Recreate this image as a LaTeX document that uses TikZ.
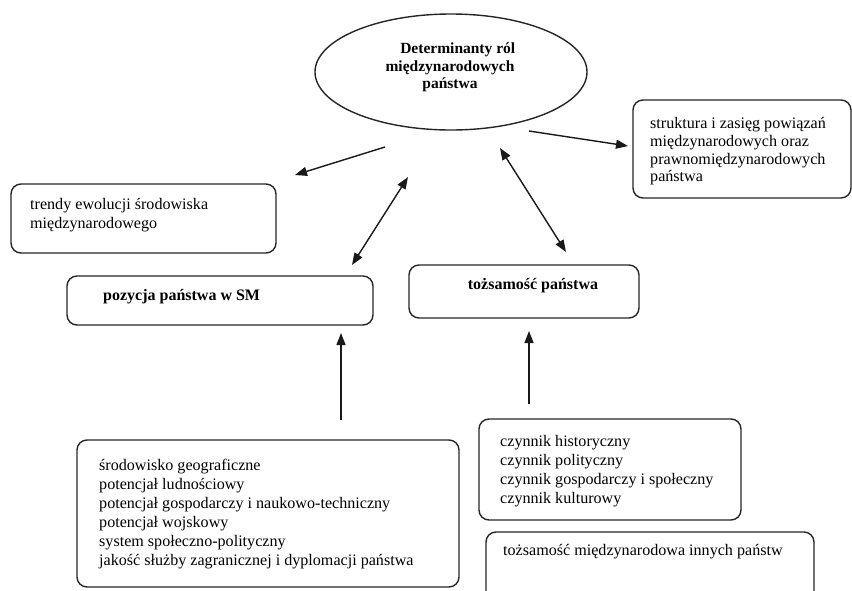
\documentclass[tikz,border=0pt]{standalone}
\usepackage{fontspec}
\setmainfont{Liberation Serif}
\usetikzlibrary{arrows.meta,shapes.geometric}
\tikzset{
  box/.style={draw=black!85, line width=1.4pt, rounded corners=10pt, inner sep=0pt},
  txt/.style={inner sep=0pt, align=left, anchor=west, font=\fontsize{16.1}{18.8}\selectfont},
  btxt/.style={inner sep=0pt, align=center, font=\fontsize{16}{17.6}\selectfont\bfseries},
  conn/.style={line width=1.4pt, draw=black!90, -{Triangle[length=12pt,width=9pt]}},
  dconn/.style={line width=1.4pt, draw=black!90, {Triangle[length=12pt,width=9pt]}-{Triangle[length=12pt,width=9pt]}},
}
\begin{document}
\begin{tikzpicture}[x=1pt,y=-1pt]
\clip (0,0) rectangle (852,590);
\fill[white] (0,0) rectangle (852,590);

% ellipse
\node[draw=black!85, line width=1.4pt, ellipse, minimum width=272pt, minimum height=116pt, inner sep=0pt] (ell) at (451,72) {};
\node[btxt, font=\fontsize{15.5}{17.6}\selectfont\bfseries] (ellTxt) at (450,67.5) {\hspace*{1em}Determinanty ról\\międzynarodowych\\państwa};

% boxes
\node[box, minimum width=265pt, minimum height=69pt] (trendyBox) at (143.5,218.5) {};
\node[txt] (trendyTxt) at (30,215.5) {trendy ewolucji środowiska\\międzynarodowego};

\node[box, minimum width=306pt, minimum height=49pt] (pozBox) at (220,300.5) {};
\node[txt, font=\fontsize{16}{18.8}\selectfont\bfseries] (pozTxt) at (103,297) {pozycja państwa w SM};

\node[box, minimum width=230pt, minimum height=53pt] (tozBox) at (524,291.5) {};
\node[btxt] (tozTxt) at (533,286) {tożsamość państwa};

\node[box, minimum width=218pt, minimum height=98pt] (strBox) at (742,149) {};
\node[txt, font=\fontsize{16.1}{17.7}\selectfont] (strTxt) at (650,151.5) {struktura i zasięg powiązań\\międzynarodowych oraz\\prawnomiędzynarodowych\\państwa};

\node[box, minimum width=382pt, minimum height=147pt] (potBox) at (268,513.5) {};
\node[txt, font=\fontsize{16.1}{19}\selectfont] (potTxt) at (99,514.5) {środowisko geograficzne\\potencjał ludnościowy\\potencjał gospodarczy i naukowo-techniczny\\potencjał wojskowy\\system społeczno-polityczny\\jakość służby zagranicznej i dyplomacji państwa};

\node[box, minimum width=262pt, minimum height=101pt] (czyBox) at (610,469.5) {};
\node[txt] (czyTxt) at (500,471) {czynnik historyczny\\czynnik polityczny\\czynnik gospodarczy i społeczny\\czynnik kulturowy};

\node[box, minimum width=328pt, minimum height=90pt] (innBox) at (650,577) {};
\node[txt] (innTxt) at (503,552) {tożsamość międzynarodowa innych państw};

% connector ends
\coordinate (a1s) at (385,147); \coordinate (a1e) at (295,175);
\coordinate (a2s) at (352,265); \coordinate (a2e) at (408,177);
\coordinate (a3s) at (500,148); \coordinate (a3e) at (566,252);
\coordinate (a4s) at (529,131); \coordinate (a4e) at (628,146);
\coordinate (a5s) at (341,420); \coordinate (a5e) at (341,333);
\coordinate (a6s) at (529,404); \coordinate (a6e) at (529,331);

\draw[conn] (a1s) -- (a1e);
\draw[dconn] (a2s) -- (a2e);
\draw[dconn] (a3s) -- (a3e);
\draw[conn] (a4s) -- (a4e);
\draw[conn] (a5s) -- (a5e);
\draw[conn] (a6s) -- (a6e);
\end{tikzpicture}
\end{document}
